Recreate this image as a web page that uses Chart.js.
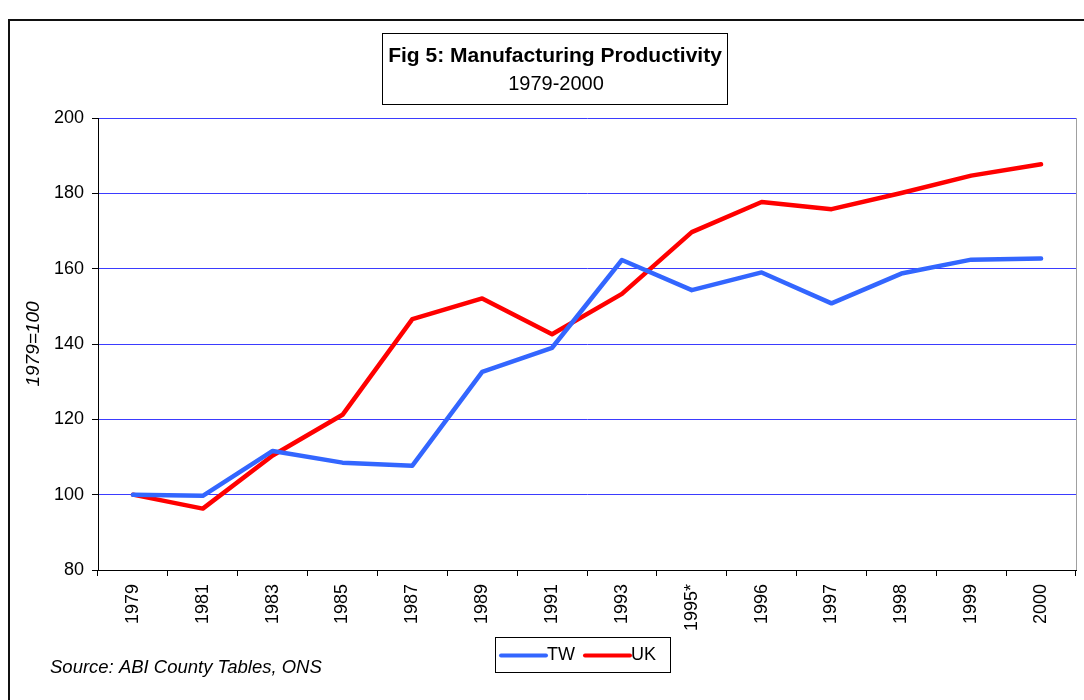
<!DOCTYPE html>
<html>
<head>
<meta charset="utf-8">
<script src="https://cdn.jsdelivr.net/npm/chart.js@4/dist/chart.umd.min.js"></script>
<style>
  html, body { margin: 0; padding: 0; background: #fff; }
  canvas { display: block; }
</style>
</head>
<body>
<canvas id="c" width="1084" height="700"></canvas>
<script>
// Manufacturing productivity index, 1979 = 100
const years = ['1979','1981','1983','1985','1987','1989','1991','1993','1995*','1996','1997','1998','1999','2000'];
const twValues = [100, 99.7, 111.6, 108.5, 107.7, 132.6, 139.0, 162.3, 154.3, 159.0, 150.8, 158.7, 162.4, 162.7];
const ukValues = [100, 96.3, 110.4, 121.2, 146.6, 152.1, 142.6, 153.3, 169.7, 177.7, 175.8, 180.1, 184.7, 187.7];
const yTicks = [80, 100, 120, 140, 160, 180, 200];

const titleLine1 = 'Fig 5: Manufacturing Productivity';
const titleLine2 = '1979-2000';
const yAxisTitle = '1979=100';
const sourceNote = 'Source: ABI County Tables, ONS';
const FONT = '"Liberation Sans", Arial, sans-serif';

const decorations = {
  id: 'decorations',
  afterDraw(chart) {
    const ctx = chart.ctx;
    const area = chart.chartArea;
    ctx.save();

    // outer frame
    ctx.strokeStyle = '#111';
    ctx.lineWidth = 2;
    ctx.strokeRect(9, 20, 1090, 700);

    // right edge of plot
    ctx.strokeStyle = '#a0a0a0';
    ctx.lineWidth = 1;
    ctx.beginPath();
    ctx.moveTo(Math.round(area.right) + 0.5, area.top);
    ctx.lineTo(Math.round(area.right) + 0.5, area.bottom);
    ctx.stroke();

    // title box
    ctx.fillStyle = '#fff';
    ctx.fillRect(382, 33, 345, 71);
    ctx.strokeStyle = '#000';
    ctx.lineWidth = 1;
    ctx.strokeRect(382.5, 33.5, 345, 71);
    ctx.fillStyle = '#000';
    ctx.textAlign = 'center';
    ctx.textBaseline = 'middle';
    ctx.font = 'bold 21px ' + FONT;
    ctx.fillText(titleLine1, 555, 56, 336);
    ctx.font = '20px ' + FONT;
    ctx.fillText(titleLine2, 556, 84);

    // y-axis title
    ctx.save();
    ctx.translate(34, 344);
    ctx.rotate(-Math.PI / 2);
    ctx.font = 'italic 19px ' + FONT;
    ctx.fillText(yAxisTitle, 0, 0);
    ctx.restore();

    // source note
    ctx.textAlign = 'left';
    ctx.font = 'italic 18.5px ' + FONT;
    ctx.fillText(sourceNote, 50, 668);

    // legend
    const lx = 495, ly = 637, lw = 175, lh = 35;
    ctx.strokeStyle = '#000';
    ctx.lineWidth = 1;
    ctx.strokeRect(lx + 0.5, ly + 0.5, lw, lh);
    ctx.font = '18px ' + FONT;
    let x = lx + 6;
    const cy = ly + lh / 2 + 1;
    chart.data.datasets.forEach(ds => {
      ctx.strokeStyle = ds.borderColor;
      ctx.lineWidth = 4;
      ctx.lineCap = 'round';
      ctx.beginPath();
      ctx.moveTo(x, cy);
      ctx.lineTo(x + 45, cy);
      ctx.stroke();
      ctx.fillStyle = '#000';
      ctx.fillText(ds.label, x + 46, cy);
      x += 46 + ctx.measureText(ds.label).width + 10;
    });

    ctx.restore();
  }
};

new Chart(document.getElementById('c'), {
  type: 'line',
  data: {
    labels: years,
    datasets: [
      { label: 'TW', data: twValues, borderColor: '#3366ff', backgroundColor: '#3366ff' },
      { label: 'UK', data: ukValues, borderColor: '#ff0000', backgroundColor: '#ff0000' }
    ]
  },
  options: {
    responsive: false,
    animation: false,
    devicePixelRatio: 1,
    layout: { padding: { left: 0, top: 118, right: 8, bottom: 0 } },
    elements: {
      line: { borderWidth: 4.5, tension: 0, borderCapStyle: 'round', borderJoinStyle: 'round' },
      point: { radius: 0, hoverRadius: 0 }
    },
    plugins: {
      legend: { display: false },
      title: { display: false },
      tooltip: { enabled: false }
    },
    scales: {
      x: {
        offset: true,
        grid: {
          offset: true,
          drawOnChartArea: false,
          drawTicks: true,
          tickLength: 6,
          color: '#000',
          tickColor: '#000'
        },
        border: { color: '#000', width: 1 },
        ticks: {
          autoSkip: false,
          minRotation: 90,
          maxRotation: 90,
          padding: 8,
          color: '#000',
          font: { family: FONT, size: 18 }
        },
        afterFit(scale) { scale.height = 130; }
      },
      y: {
        min: 80,
        max: 200,
        afterBuildTicks(scale) { scale.ticks = yTicks.map(v => ({ value: v })); },
        grid: {
          color: '#3b3bff',
          lineWidth: 1,
          tickLength: 6,
          tickColor: '#000'
        },
        border: { color: '#000', width: 1 },
        ticks: {
          padding: 8,
          color: '#000',
          font: { family: FONT, size: 18 }
        },
        afterFit(scale) { scale.width = 98; }
      }
    }
  },
  plugins: [decorations]
});
</script>
</body>
</html>
